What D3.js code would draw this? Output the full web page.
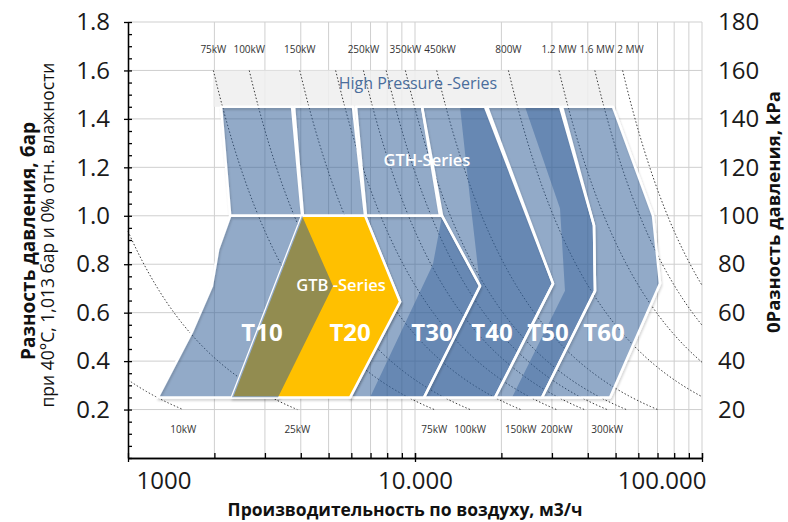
<!DOCTYPE html>
<html>
<head>
<meta charset="utf-8">
<script src="https://cdn.jsdelivr.net/npm/d3@7"></script>
<style>
  body { margin: 0; background: #fff; }
  svg { display: block; font-family: "Open Sans", sans-serif; }
</style>
</head>
<body>
<svg id="chart" width="788" height="522"></svg>
<script>
// axis ticks
var xTicks = [1000, 10000, 100000];
var xTickLabels = ['1000', '10.000', '100.000'];
var yTicks = [0.2, 0.4, 0.6, 0.8, 1.0, 1.2, 1.4, 1.6, 1.8];
var kpaLabels = ['20', '40', '60', '80', '100', '120', '140', '160', '180'];

// iso-power lines, kW
var curvePowers = [10, 25, 75, 100, 150, 200, 250, 300, 350, 450, 800, 1200, 1600, 2000];
var topPowers = [75, 100, 150, 250, 350, 450, 800, 1200, 1600, 2000];
var topPowerLabels = ['75kW', '100kW', '150kW', '250kW', '350kW', '450kW', '800W', '1.2 MW', '1.6 MW', '2 MW'];
var bottomPowers = [10, 25, 75, 100, 150, 200, 300];
var bottomPowerLabels = ['10kW', '25kW', '75kW', '100kW', '150kW', '200kW', '300kW'];

// areas, [m3/h, bar]
var highPressureBox = [[1980, 1.6], [49800, 1.45]];

var gthNames = ['T10', 'T20', 'T30'];
var gthShapes = [
  [[2110, 1.45], [3730, 1.45], [4040, 1.0], [2270, 1.0]],
  [[3790, 1.45], [6080, 1.45], [6700, 1.0], [4070, 1.0]],
  [[6230, 1.45], [10580, 1.45], [12220, 1.0], [6750, 1.0]]
];

var gtbNames = ['T10', 'T20', 'T30'];
var gtbShapes = [
  [[2270, 1.0], [4040, 1.0], [5180, 0.71], [3330, 0.25], [1270, 0.25], [1670, 0.52], [1960, 0.71], [2060, 0.86]],
  [[4040, 1.0], [6700, 1.0], [8870, 0.645], [5940, 0.25], [2300, 0.25]],
  [[6700, 1.0], [12420, 1.0], [16850, 0.71], [10750, 0.25], [5940, 0.25], [8870, 0.645]]
];

var bigNames = ['T40', 'T50', 'T60'];
var bigShapes = [
  [[10580, 1.45], [17540, 1.45], [30260, 0.72], [19000, 0.25], [10750, 0.25], [16850, 0.71], [12420, 1.0]],
  [[17820, 1.45], [32010, 1.45], [42040, 0.96], [42380, 0.69], [27700, 0.25], [19000, 0.25], [30260, 0.72]],
  [[32520, 1.45], [48970, 1.45], [67500, 1.0], [71400, 0.72], [47800, 0.25], [27700, 0.25], [42380, 0.69], [42040, 0.96]]
];

// darker overlap bands
var bandShapes = [
  [[6970, 0.25], [11550, 0.8], [12420, 1.0], [16850, 0.71], [10750, 0.25]],
  [[14350, 1.45], [17540, 1.45], [30260, 0.72], [19000, 0.25], [10750, 0.25], [16850, 0.71], [15550, 1.07]],
  [[24170, 1.45], [32010, 1.45], [42040, 0.96], [42380, 0.69], [27700, 0.25], [21780, 0.25], [33310, 0.69], [32010, 1.03]]
];

var seriesLabels = ['T10', 'T20', 'T30', 'T40', 'T50', 'T60'];
var seriesLabelQ = [2930, 5940, 11460, 18550, 29070, 45550];
var seriesLabelDp = 0.517;

var groupLabels = ['High Pressure -Series', 'GTH-Series', 'GTB -Series'];
var groupLabelPos = [[10240, 1.545], [11010, 1.231], [5524, 0.715]];

var svg = d3.select('#chart');

var x = d3.scaleLog().domain([1000, 100000]).range([128, 702]);
var y = d3.scaleLinear().domain([0, 1.8]).range([458, 22]);

// adiabatic compressor power (kW) -> pressure difference at a given flow
var P1 = 101300, KAPPA = 0.2857, EFF = 0.81;
function powerCoef(dp) {
  return P1 / 3600 * (1 / KAPPA) * (Math.pow(1 + dp / 1.013, KAPPA) - 1) / EFF / 1000;
}
function flowAt(power, dp) {
  return power / powerCoef(dp);
}
function dpAt(power, q) {
  var r = 1 + power * 1000 * EFF * 3600 * KAPPA / (P1 * q);
  return 1.013 * (Math.pow(r, 1 / KAPPA) - 1);
}

// soft shadow for the white outlines
var defs = svg.append('defs');
var shadow = defs.append('filter')
  .attr('id', 'shadow')
  .attr('x', '-10%').attr('y', '-10%')
  .attr('width', '120%').attr('height', '120%');
shadow.append('feDropShadow')
  .attr('dx', 1)
  .attr('dy', 2)
  .attr('stdDeviation', 1.2)
  .attr('flood-color', '#000')
  .attr('flood-opacity', 0.18);

// grid
var grid = svg.append('g').attr('class', 'grid');
var xGrid = [];
[1000, 10000].forEach(function(dec) {
  for (var k = 2; k <= 10; k++) xGrid.push(dec * k);
});
grid.selectAll('line.v')
  .data(xGrid)
  .enter()
  .append('line')
  .attr('x1', function(d) { return x(d); })
  .attr('x2', function(d) { return x(d); })
  .attr('y1', y(1.8))
  .attr('y2', y(0))
  .attr('stroke', '#cfcfcf')
  .attr('stroke-width', 1);
grid.selectAll('line.h')
  .data(yTicks)
  .enter()
  .append('line')
  .attr('x1', x(1000))
  .attr('x2', x(100000))
  .attr('y1', function(d) { return y(d); })
  .attr('y2', function(d) { return y(d); })
  .attr('stroke', '#cfcfcf')
  .attr('stroke-width', 1);

// high pressure box
svg.append('rect')
  .attr('x', x(highPressureBox[0][0]))
  .attr('y', y(highPressureBox[0][1]))
  .attr('width', x(highPressureBox[1][0]) - x(highPressureBox[0][0]))
  .attr('height', y(highPressureBox[1][1]) - y(highPressureBox[0][1]))
  .attr('fill', '#efefef')
  .attr('opacity', 0.85);

// iso-power curves
var line = d3.line()
  .x(function(d) { return x(d[0]); })
  .y(function(d) { return y(d[1]); });

svg.append('g')
  .selectAll('path')
  .data(curvePowers)
  .enter()
  .append('path')
  .attr('d', function(p) {
    var q0 = Math.max(1000, flowAt(p, 1.6));
    var q1 = Math.min(100000, flowAt(p, 0.2));
    var pts = [];
    var n = 60;
    for (var i = 0; i <= n; i++) {
      var q = Math.pow(10, Math.log10(q0) + (Math.log10(q1) - Math.log10(q0)) * i / n);
      pts.push([q, dpAt(p, q)]);
    }
    return line(pts);
  })
  .attr('fill', 'none')
  .attr('stroke', '#3a3a3a')
  .attr('stroke-width', 1)
  .attr('stroke-dasharray', '1.5,2');

// shapes
var poly = function(pts) {
  return line(pts) + 'Z';
};
var BLUE = '#325f98';
var shapes = svg.append('g');
var blueShapes = gthShapes.concat(gtbShapes.filter(function(d, i) { return i !== 1; }), bigShapes);

shapes.selectAll('path.fill')
  .data(blueShapes)
  .enter()
  .append('path')
  .attr('d', poly)
  .attr('fill', BLUE)
  .attr('fill-opacity', 0.53);

shapes.selectAll('path.band')
  .data(bandShapes)
  .enter()
  .append('path')
  .attr('d', poly)
  .attr('fill', BLUE)
  .attr('fill-opacity', 0.45);

shapes.append('g')
  .attr('filter', 'url(#shadow)')
  .selectAll('path')
  .data(blueShapes)
  .enter()
  .append('path')
  .attr('d', poly)
  .attr('fill', 'none')
  .attr('stroke', '#fff')
  .attr('stroke-width', 2.5)
  .attr('stroke-linejoin', 'round');

// T20 highlighted
defs.append('clipPath')
  .attr('id', 'clip-t20')
  .append('path')
  .attr('d', poly(gtbShapes[1]));
shapes.append('path')
  .attr('d', poly(gtbShapes[1]))
  .attr('fill', '#ffc000')
  .attr('stroke', '#fff')
  .attr('stroke-width', 2.5)
  .attr('stroke-linejoin', 'round')
  .attr('filter', 'url(#shadow)');
shapes.append('path')
  .attr('d', poly(gtbShapes[0]))
  .attr('clip-path', 'url(#clip-t20)')
  .attr('fill', BLUE)
  .attr('fill-opacity', 0.53);

// axes
var axisColor = '#000';
svg.append('g')
  .attr('transform', 'translate(' + x(1000) + ',0)')
  .call(d3.axisLeft(y).tickValues(yTicks).tickSize(4).tickSizeOuter(0).tickPadding(14)
    .tickFormat(d3.format('.1f')));
svg.append('g')
  .attr('transform', 'translate(' + x(1000) + ',0)')
  .call(d3.axisRight(y).tickValues(d3.range(0, 1.801, 0.05)).tickSize(4).tickSizeOuter(0).tickFormat(''));

var bottom = svg.append('g')
  .attr('transform', 'translate(0,' + y(0) + ')')
  .call(d3.axisBottom(x).tickValues(xTicks).tickSize(4).tickSizeOuter(0).tickPadding(10)
    .tickFormat(function(d, i) { return xTickLabels[i]; }));
svg.append('g')
  .attr('transform', 'translate(0,' + y(0) + ')')
  .call(d3.axisTop(x).tickValues(xTicks.concat(xGrid)).tickSize(5).tickSizeOuter(0).tickFormat(''));

var right = svg.append('g')
  .attr('transform', 'translate(' + x(100000) + ',0)')
  .call(d3.axisRight(y).tickValues(yTicks).tickSize(0).tickPadding(16)
    .tickFormat(function(d, i) { return kpaLabels[i]; }));
right.select('.domain').remove();

svg.selectAll('.domain').attr('stroke', axisColor).attr('stroke-width', 1.3);
svg.selectAll('.tick line').attr('stroke', axisColor).attr('stroke-width', 1.3);
svg.selectAll('.tick text')
  .attr('fill', '#1a1a1a')
  .style('font-size', '24px')
  .style('font-family', '"Open Sans", sans-serif');
bottom.selectAll('.tick text')
  .attr('text-anchor', function(d, i) { return i === 0 ? 'start' : (i === xTicks.length - 1 ? 'end' : 'middle'); })
  .attr('dx', function(d, i) { return i === 0 ? 8 : (i === xTicks.length - 1 ? 4 : 0); });

// power labels, pushed apart where they would touch
function spreadLabels(sel) {
  var prevEnd = -Infinity;
  sel.each(function() {
    var w = this.getComputedTextLength();
    var cx = +d3.select(this).attr('x');
    if (cx - w / 2 < prevEnd + 3) cx = prevEnd + 3 + w / 2;
    d3.select(this).attr('x', cx);
    prevEnd = cx + w / 2;
  });
}

var topText = svg.append('g')
  .selectAll('text')
  .data(topPowers)
  .enter()
  .append('text')
  .attr('x', function(p) { return x(flowAt(p, 1.6)); })
  .attr('y', 53)
  .attr('text-anchor', 'middle')
  .attr('fill', '#333')
  .style('font-size', '10px')
  .text(function(d, i) { return topPowerLabels[i]; });
spreadLabels(topText);

var bottomText = svg.append('g')
  .selectAll('text')
  .data(bottomPowers)
  .enter()
  .append('text')
  .attr('x', function(p) { return x(flowAt(p, 0.2)); })
  .attr('y', 433)
  .attr('text-anchor', 'middle')
  .attr('fill', '#333')
  .style('font-size', '10px')
  .text(function(d, i) { return bottomPowerLabels[i]; });
spreadLabels(bottomText);

// series labels
svg.append('g')
  .selectAll('text')
  .data(seriesLabels)
  .enter()
  .append('text')
  .attr('x', function(d, i) { return x(seriesLabelQ[i]); })
  .attr('y', y(seriesLabelDp))
  .attr('dy', '0.35em')
  .attr('text-anchor', 'middle')
  .attr('fill', '#fff')
  .style('font-size', '24px')
  .style('font-weight', 'bold')
  .text(function(d) { return d; });

svg.append('g')
  .selectAll('text')
  .data(groupLabels)
  .enter()
  .append('text')
  .attr('x', function(d, i) { return x(groupLabelPos[i][0]); })
  .attr('y', function(d, i) { return y(groupLabelPos[i][1]); })
  .attr('dy', '0.35em')
  .attr('text-anchor', 'middle')
  .attr('fill', function(d, i) { return i === 0 ? '#4a6d9c' : '#fff'; })
  .style('font-size', function(d, i) { return i === 0 ? '16px' : '16.5px'; })
  .style('font-weight', function(d, i) { return i === 0 ? 'normal' : 600; })
  .text(function(d) { return d; });

// axis titles
svg.append('text')
  .attr('x', 405)
  .attr('y', 510)
  .attr('dy', '0.35em')
  .attr('text-anchor', 'middle')
  .style('font-size', '17.5px')
  .style('font-weight', 'bold')
  .attr('fill', '#111')
  .text('Производительность по воздуху, м3/ч');

svg.append('text')
  .attr('transform', 'translate(28,241) rotate(-90)')
  .attr('dy', '0.35em')
  .attr('text-anchor', 'middle')
  .style('font-size', '19px')
  .style('font-weight', 'bold')
  .attr('fill', '#111')
  .text('Разность давления, бар');

svg.append('text')
  .attr('transform', 'translate(48,235) rotate(-90)')
  .attr('dy', '0.35em')
  .attr('text-anchor', 'middle')
  .style('font-size', '17.5px')
  .attr('fill', '#111')
  .text('при 40°С, 1,013 бар и 0% отн. влажности');

svg.append('text')
  .attr('transform', 'translate(774,212) rotate(-90)')
  .attr('dy', '0.35em')
  .attr('text-anchor', 'middle')
  .style('font-size', '18.5px')
  .style('font-weight', 'bold')
  .attr('fill', '#111')
  .text('0Разность давления, kPa');
</script>
</body>
</html>
